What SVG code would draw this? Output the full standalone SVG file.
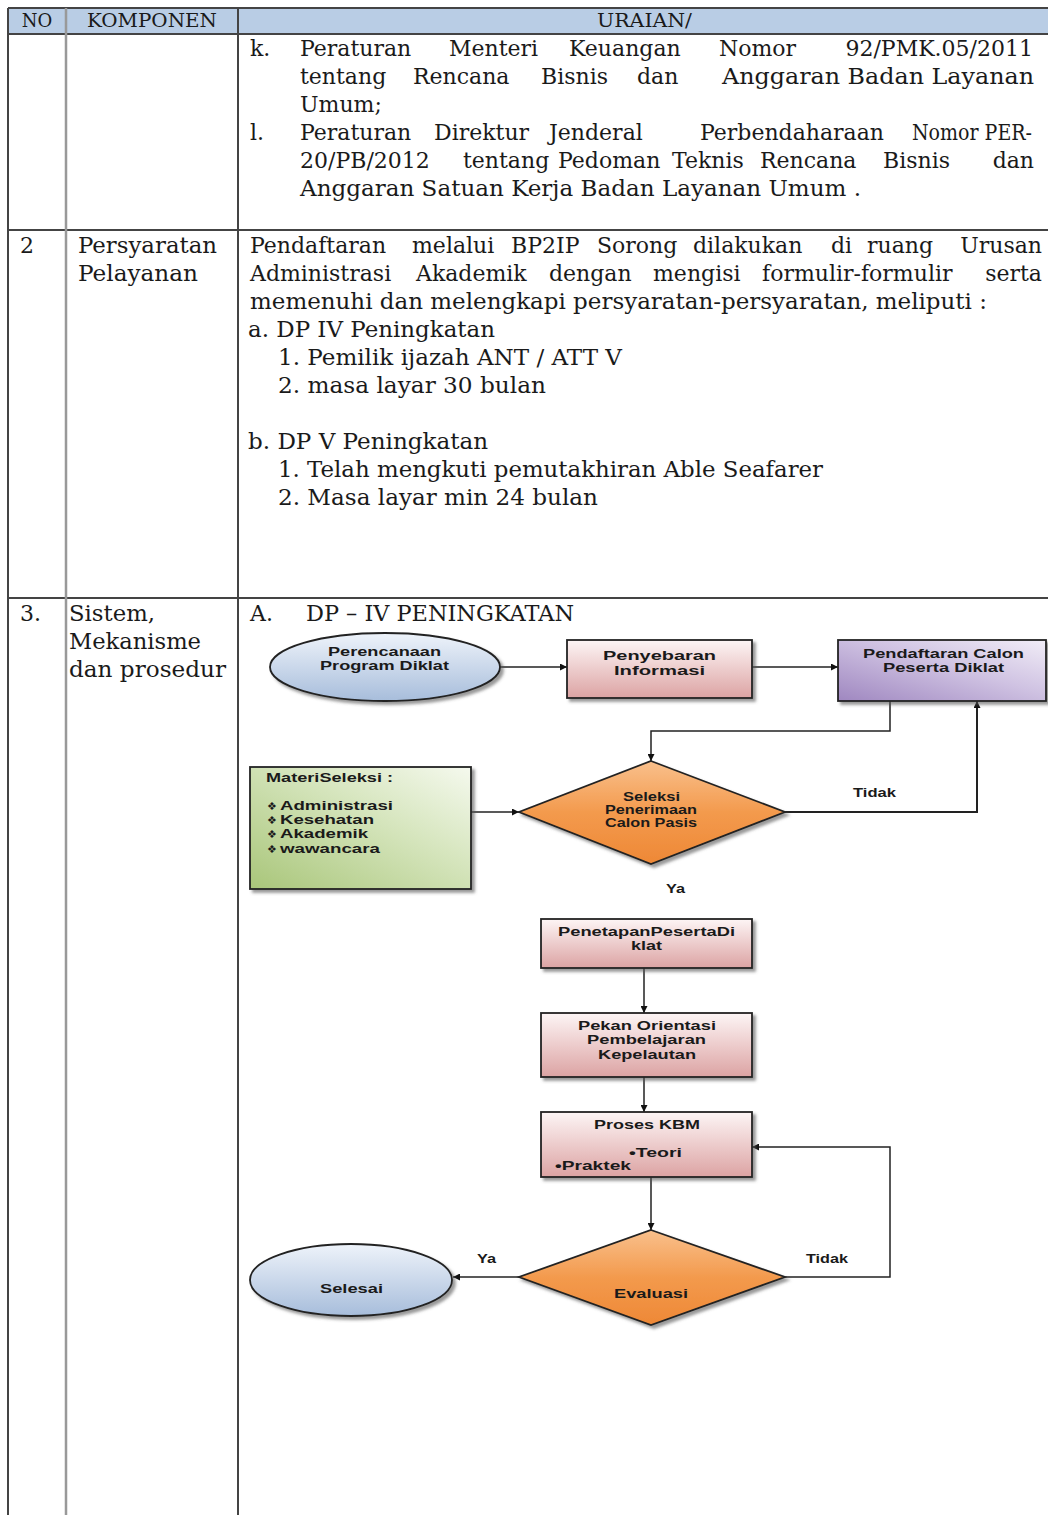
<svg xmlns="http://www.w3.org/2000/svg" width="1048" height="1515" viewBox="0 0 1048 1515">
<style>
.t{font-family:"DejaVu Serif","Liberation Serif",serif;font-size:22px;fill:#1a1a1a}
.h{font-family:"DejaVu Serif","Liberation Serif",serif;font-size:18px;fill:#1a1a1a}
.f{font-family:"Liberation Sans",Arial,sans-serif;font-weight:bold;font-size:13px;fill:#1a1a1a}
.b{font-family:"DejaVu Sans",sans-serif;font-size:11px;fill:#1a1a1a}
.grid{stroke:#444;stroke-width:2;fill:none}
.gridl{stroke:#999;stroke-width:2.5;fill:none}
.c{stroke:#222;stroke-width:1.5;fill:none;marker-end:url(#ah)}
.nd{stroke:#222;stroke-width:1.8}
</style>
<defs>
<marker id="ah" viewBox="0 0 10 10" refX="10" refY="5" markerWidth="7" markerHeight="7" orient="auto" markerUnits="userSpaceOnUse">
<path d="M0,0 L10,5 L0,10 z" fill="#111"/>
</marker>
<filter id="sh" x="-10%" y="-10%" width="125%" height="130%">
<feDropShadow dx="3" dy="3" stdDeviation="1.5" flood-color="#555" flood-opacity="0.6"/>
</filter>
<linearGradient id="gBlue" x1="0" y1="0" x2="0" y2="1">
<stop offset="0" stop-color="#eef3fa"/><stop offset="1" stop-color="#a7bddb"/>
</linearGradient>
<linearGradient id="gPink" x1="0" y1="0" x2="0" y2="1">
<stop offset="0" stop-color="#fdf5f5"/><stop offset="1" stop-color="#dca3a3"/>
</linearGradient>
<linearGradient id="gPurple" x1="0" y1="1" x2="1" y2="0">
<stop offset="0" stop-color="#9f87c0"/><stop offset="0.55" stop-color="#cfc2e2"/><stop offset="1" stop-color="#f1edf7"/>
</linearGradient>
<linearGradient id="gGreen" x1="0" y1="1" x2="1" y2="0">
<stop offset="0" stop-color="#a9c67a"/><stop offset="0.6" stop-color="#d7e6bf"/><stop offset="1" stop-color="#f5f9ee"/>
</linearGradient>
<linearGradient id="gOrange" x1="0" y1="0" x2="0" y2="1">
<stop offset="0" stop-color="#f9c08c"/><stop offset="0.5" stop-color="#f39a4d"/><stop offset="1" stop-color="#ee8836"/>
</linearGradient>
</defs>

<g id="table">
<rect x="8" y="8" width="1040" height="26" fill="#b9cde5"/>
<line class="grid" x1="8" y1="8" x2="1048" y2="8"/>
<line class="grid" x1="8" y1="34" x2="1048" y2="34"/>
<line class="grid" x1="8" y1="230" x2="1048" y2="230"/>
<line class="grid" x1="8" y1="598" x2="1048" y2="598"/>
<line class="grid" x1="8" y1="8" x2="8" y2="1515"/>
<line class="gridl" x1="66" y1="8" x2="66" y2="1515"/>
<line class="grid" x1="238" y1="8" x2="238" y2="1515"/>
<text class="h" x="37" y="27" text-anchor="middle">NO</text>
<text class="h" x="87" y="27" textLength="130" lengthAdjust="spacingAndGlyphs">KOMPONEN</text>
<text class="h" x="597" y="27" textLength="95" lengthAdjust="spacingAndGlyphs">URAIAN/</text>
</g>

<g id="row1">
<text class="t" x="250" y="56">k.</text>
<text class="t" y="56"><tspan x="300">Peraturan</tspan><tspan x="449">Menteri</tspan><tspan x="569">Keuangan</tspan><tspan x="719">Nomor</tspan><tspan x="1033" text-anchor="end">92/PMK.05/2011</tspan></text>
<text class="t" y="84"><tspan x="300">tentang</tspan><tspan x="413">Rencana</tspan><tspan x="541">Bisnis</tspan><tspan x="637">dan</tspan></text>
<text class="t" x="722" y="84" textLength="312" lengthAdjust="spacingAndGlyphs">Anggaran Badan Layanan</text>
<text class="t" x="300" y="112">Umum;</text>
<text class="t" x="250" y="140">l.</text>
<text class="t" y="140"><tspan x="300">Peraturan</tspan><tspan x="434">Direktur</tspan><tspan x="549">Jenderal</tspan><tspan x="700">Perbendaharaan</tspan></text>
<text class="t" x="912" y="140" textLength="120" lengthAdjust="spacingAndGlyphs">Nomor PER-</text>
<text class="t" y="168"><tspan x="300">20/PB/2012</tspan><tspan x="463">tentang</tspan><tspan x="558">Pedoman</tspan><tspan x="672">Teknis</tspan><tspan x="760">Rencana</tspan><tspan x="883">Bisnis</tspan><tspan x="1034" text-anchor="end">dan</tspan></text>
<text class="t" x="300" y="196" textLength="561" lengthAdjust="spacingAndGlyphs">Anggaran Satuan Kerja Badan Layanan Umum .</text>
</g>

<g id="row2">
<text class="t" x="20" y="253">2</text>
<text class="t" x="78" y="253" textLength="139" lengthAdjust="spacingAndGlyphs">Persyaratan</text>
<text class="t" x="78" y="281" textLength="120" lengthAdjust="spacingAndGlyphs">Pelayanan</text>
<text class="t" y="253"><tspan x="250">Pendaftaran</tspan><tspan x="412">melalui</tspan><tspan x="511">BP2IP</tspan><tspan x="597">Sorong</tspan><tspan x="693">dilakukan</tspan><tspan x="831">di</tspan><tspan x="867">ruang</tspan><tspan x="1042" text-anchor="end">Urusan</tspan></text>
<text class="t" y="281"><tspan x="250">Administrasi</tspan><tspan x="416">Akademik</tspan><tspan x="549">dengan</tspan><tspan x="653">mengisi</tspan><tspan x="762">formulir-formulir</tspan><tspan x="1042" text-anchor="end">serta</tspan></text>
<text class="t" x="250" y="309" textLength="737" lengthAdjust="spacingAndGlyphs">memenuhi dan melengkapi persyaratan-persyaratan, meliputi :</text>
<text class="t" x="248" y="337" textLength="247" lengthAdjust="spacingAndGlyphs">a. DP IV Peningkatan</text>
<text class="t" x="278" y="365" textLength="344" lengthAdjust="spacingAndGlyphs">1. Pemilik ijazah ANT / ATT V</text>
<text class="t" x="278" y="393" textLength="268" lengthAdjust="spacingAndGlyphs">2. masa layar 30 bulan</text>
<text class="t" x="248" y="449" textLength="240" lengthAdjust="spacingAndGlyphs">b. DP V Peningkatan</text>
<text class="t" x="278" y="477" textLength="545" lengthAdjust="spacingAndGlyphs">1. Telah mengkuti pemutakhiran Able Seafarer</text>
<text class="t" x="278" y="505" textLength="320" lengthAdjust="spacingAndGlyphs">2. Masa layar min 24 bulan</text>
</g>

<g id="row3">
<text class="t" x="20" y="621">3.</text>
<text class="t" x="69" y="621" textLength="86" lengthAdjust="spacingAndGlyphs">Sistem,</text>
<text class="t" x="69" y="649" textLength="132" lengthAdjust="spacingAndGlyphs">Mekanisme</text>
<text class="t" x="69" y="677" textLength="157" lengthAdjust="spacingAndGlyphs">dan prosedur</text>
<text class="t" x="250" y="621">A.</text>
<text class="t" x="306" y="621" textLength="268" lengthAdjust="spacingAndGlyphs">DP – IV PENINGKATAN</text>
</g>

<g id="connectors">
<path class="c" d="M500,667 H567"/>
<path class="c" d="M752,667 H838"/>
<path class="c" d="M890,701 V731 H651 V761"/>
<path class="c" d="M785,812 H977 V701" style="stroke-width:2"/>
<path class="c" d="M471,812 H519"/>
<path class="c" d="M644,968 V1013"/>
<path class="c" d="M644,1077 V1112"/>
<path class="c" d="M651,1177 V1230"/>
<path class="c" d="M785,1277 H890 V1147 H752"/>
<path class="c" d="M519,1277 H453"/>
<text class="f" x="853" y="797" textLength="43" lengthAdjust="spacingAndGlyphs">Tidak</text>
<text class="f" x="666" y="893" textLength="19" lengthAdjust="spacingAndGlyphs">Ya</text>
<text class="f" x="806" y="1263" textLength="42" lengthAdjust="spacingAndGlyphs">Tidak</text>
<text class="f" x="477" y="1263" textLength="19" lengthAdjust="spacingAndGlyphs">Ya</text>
</g>

<g id="n-perencanaan">
<ellipse class="nd" cx="385" cy="667" rx="115" ry="34" fill="url(#gBlue)" filter="url(#sh)"/>
<text class="f" x="328" y="656" textLength="113" lengthAdjust="spacingAndGlyphs">Perencanaan</text>
<text class="f" x="320" y="670" textLength="129" lengthAdjust="spacingAndGlyphs">Program Diklat</text>
</g>

<g id="n-penyebaran">
<rect class="nd" x="567" y="640" width="185" height="58" fill="url(#gPink)" filter="url(#sh)"/>
<text class="f" x="603" y="660" textLength="113" lengthAdjust="spacingAndGlyphs">Penyebaran</text>
<text class="f" x="614" y="675" textLength="91" lengthAdjust="spacingAndGlyphs">Informasi</text>
</g>

<g id="n-pendaftaran">
<rect class="nd" x="838" y="640" width="208" height="61" fill="url(#gPurple)" filter="url(#sh)"/>
<text class="f" x="863" y="658" textLength="161" lengthAdjust="spacingAndGlyphs">Pendaftaran Calon</text>
<text class="f" x="883" y="672" textLength="121" lengthAdjust="spacingAndGlyphs">Peserta Diklat</text>
</g>

<g id="n-materi">
<rect class="nd" x="250" y="767" width="221" height="122" fill="url(#gGreen)" filter="url(#sh)"/>
<text class="f" x="266" y="782" textLength="127" lengthAdjust="spacingAndGlyphs">MateriSeleksi :</text>
<text class="b" x="267" y="810">❖</text><text class="f" x="280" y="810" textLength="113" lengthAdjust="spacingAndGlyphs">Administrasi</text>
<text class="b" x="267" y="824">❖</text><text class="f" x="280" y="824" textLength="94" lengthAdjust="spacingAndGlyphs">Kesehatan</text>
<text class="b" x="267" y="838">❖</text><text class="f" x="280" y="838" textLength="88" lengthAdjust="spacingAndGlyphs">Akademik</text>
<text class="b" x="267" y="853">❖</text><text class="f" x="280" y="853" textLength="100" lengthAdjust="spacingAndGlyphs">wawancara</text>
</g>

<g id="n-seleksi">
<polygon class="nd" points="651,761 785,812 651,864 519,812" fill="url(#gOrange)" filter="url(#sh)"/>
<text class="f" x="623" y="801" textLength="57" lengthAdjust="spacingAndGlyphs">Seleksi</text>
<text class="f" x="605" y="814" textLength="92" lengthAdjust="spacingAndGlyphs">Penerimaan</text>
<text class="f" x="605" y="827" textLength="92" lengthAdjust="spacingAndGlyphs">Calon Pasis</text>
</g>

<g id="n-penetapan">
<rect class="nd" x="541" y="919" width="211" height="49" fill="url(#gPink)" filter="url(#sh)"/>
<text class="f" x="558" y="936" textLength="177" lengthAdjust="spacingAndGlyphs">PenetapanPesertaDi</text>
<text class="f" x="631" y="950" textLength="31" lengthAdjust="spacingAndGlyphs">klat</text>
</g>

<g id="n-pekan">
<rect class="nd" x="541" y="1013" width="211" height="64" fill="url(#gPink)" filter="url(#sh)"/>
<text class="f" x="578" y="1030" textLength="138" lengthAdjust="spacingAndGlyphs">Pekan Orientasi</text>
<text class="f" x="587" y="1044" textLength="119" lengthAdjust="spacingAndGlyphs">Pembelajaran</text>
<text class="f" x="598" y="1059" textLength="98" lengthAdjust="spacingAndGlyphs">Kepelautan</text>
</g>

<g id="n-proses">
<rect class="nd" x="541" y="1112" width="211" height="65" fill="url(#gPink)" filter="url(#sh)"/>
<text class="f" x="594" y="1129" textLength="106" lengthAdjust="spacingAndGlyphs">Proses KBM</text>
<text class="f" x="629" y="1157" textLength="53" lengthAdjust="spacingAndGlyphs">•Teori</text>
<text class="f" x="555" y="1170" textLength="76" lengthAdjust="spacingAndGlyphs">•Praktek</text>
</g>

<g id="n-evaluasi">
<polygon class="nd" points="651,1230 785,1277 651,1325 519,1277" fill="url(#gOrange)" filter="url(#sh)"/>
<text class="f" x="614" y="1298" textLength="74" lengthAdjust="spacingAndGlyphs">Evaluasi</text>
</g>

<g id="n-selesai">
<ellipse class="nd" cx="351" cy="1280" rx="101" ry="36" fill="url(#gBlue)" filter="url(#sh)"/>
<text class="f" x="320" y="1293" textLength="63" lengthAdjust="spacingAndGlyphs">Selesai</text>
</g>
</svg>
